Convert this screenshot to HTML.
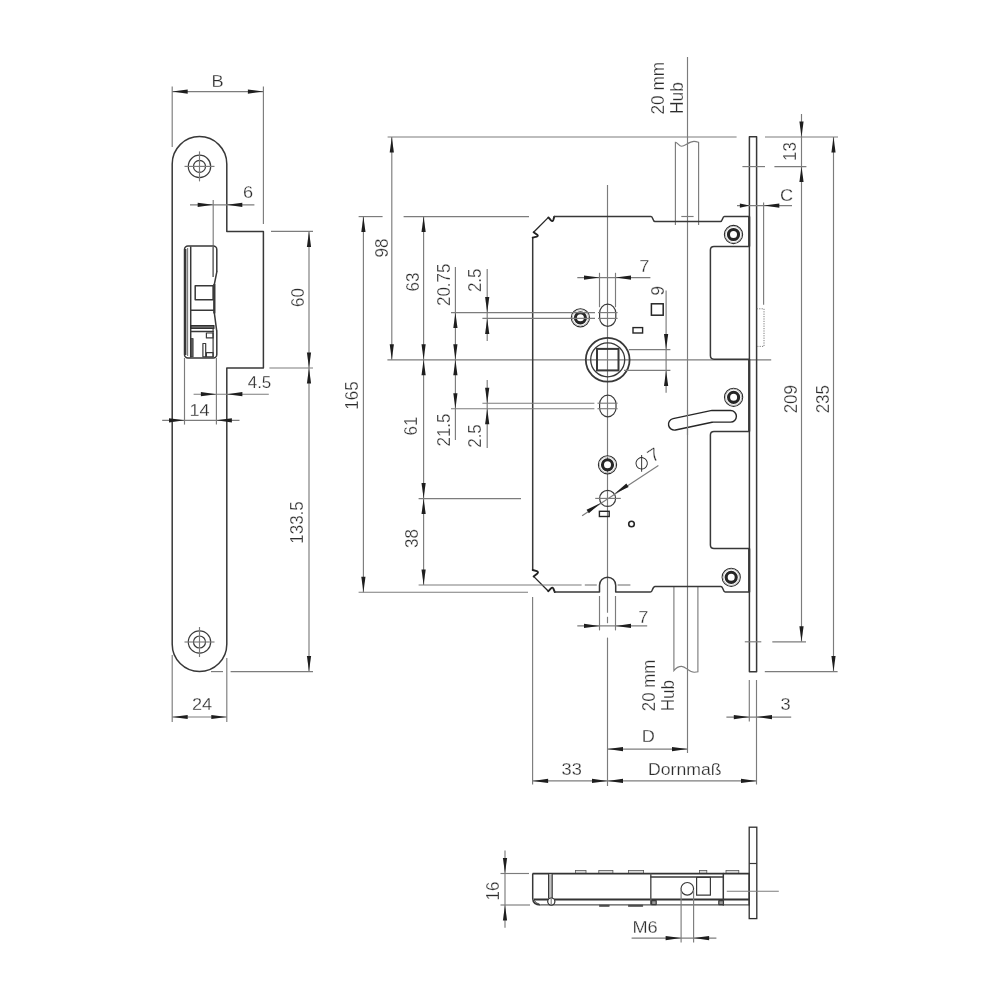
<!DOCTYPE html>
<html><head><meta charset="utf-8"><title>Lock drawing</title>
<style>
html,body{margin:0;padding:0;background:#fff;}
body{width:1000px;height:1000px;overflow:hidden;}
svg{display:block;filter:grayscale(1);}
text{font-family:"Liberation Sans",sans-serif;fill:#2c2c2c;stroke:#fff;stroke-width:0.25px;}
.t{stroke:#7c7c7c;stroke-width:1.15;fill:none;}
.t2{stroke:#7c7c7c;stroke-width:1.2;fill:none;}
.k{stroke:#383838;stroke-width:1.5;fill:none;stroke-linejoin:round;stroke-linecap:round;}
.k2{stroke:#383838;stroke-width:2.2;fill:none;stroke-linejoin:round;stroke-linecap:butt;}
.m{stroke:#3a3a3a;stroke-width:1.2;fill:none;stroke-linejoin:round;}
.a{fill:#1e1e1e;stroke:none;}
.s1{stroke:#2a2a2a;stroke-width:1;fill:none;}
.s2{stroke:#222;stroke-width:3.4;fill:#fff;}
.dot{stroke:#7c7c7c;stroke-width:1;fill:none;stroke-dasharray:1.2 1.2;}
</style></head><body>
<svg width="1000" height="1000" viewBox="0 0 1000 1000">
<rect x="0" y="0" width="1000" height="1000" fill="#fff"/>
<g id="left">
<line class="t" x1="172.2" y1="86.5" x2="172.2" y2="147"/>
<line class="t" x1="263.4" y1="86.5" x2="263.4" y2="224"/>
<line class="t" x1="172.2" y1="91.6" x2="263.4" y2="91.6"/>
<polygon class="a" points="172.20,91.60 187.70,89.50 187.70,93.70"/>
<polygon class="a" points="263.40,91.60 247.90,93.70 247.90,89.50"/>
<text transform="translate(217.5 87) scale(1.07 1.0)" text-anchor="middle" font-size="17">B</text>
<path class="k" d="M172.2,163.9 A27.3,27.3 0 0 1 226.8,163.9 L226.8,231.4 L263.4,231.4 L263.4,368 L226.8,368 L226.8,644.3 A27.3,27.3 0 0 1 172.2,644.3 Z"/>
<circle class="m" cx="199.5" cy="166.4" r="11.2"/>
<circle class="m" cx="199.5" cy="166.4" r="6"/>
<line class="t" x1="184.5" y1="166.4" x2="214.5" y2="166.4"/>
<line class="t" x1="199.5" y1="151.4" x2="199.5" y2="181.4"/>
<circle class="m" cx="199.5" cy="642" r="11.2"/>
<circle class="m" cx="199.5" cy="642" r="6"/>
<line class="t" x1="184.5" y1="642" x2="214.5" y2="642"/>
<line class="t" x1="199.5" y1="627" x2="199.5" y2="657"/>
<line class="t" x1="190" y1="204.8" x2="254.4" y2="204.8"/>
<polygon class="a" points="213.20,204.80 197.70,206.90 197.70,202.70"/>
<polygon class="a" points="226.80,204.80 242.30,202.70 242.30,206.90"/>
<line class="t" x1="213.2" y1="200" x2="213.2" y2="245.6"/>
<text transform="translate(248 198) scale(1.07 1.0)" text-anchor="middle" font-size="17">6</text>
<rect class="k" x="184.5" y="245.9" width="32.3" height="112.1" rx="3.5" ry="3.5" fill="#fff"/>
<path d="M216.9,271.4 L214.4,284 L214.4,313.4 L216.6,330.2 L219,330.2 L219,271.4 Z" fill="#fff" stroke="none"/>
<path class="k" d="M216.9,271.4 L214.4,284 L214.4,313.4 L216.6,330.2"/>
<line class="k2" x1="214.3" y1="284" x2="214.3" y2="313.4"/>
<line class="k2" x1="185.3" y1="249" x2="185.3" y2="355"/>
<line class="t" x1="187.6" y1="248" x2="187.6" y2="356"/>
<line class="k" x1="190.7" y1="247" x2="190.7" y2="357"/>
<line class="m" x1="213.1" y1="247" x2="213.1" y2="277"/>
<rect class="k" x="195.2" y="285.7" width="17.9" height="14" />
<line class="k" x1="190.7" y1="310.2" x2="214.1" y2="310.2"/>
<rect x="191" y="325.6" width="23" height="2.8" fill="#666" stroke="#222" stroke-width="1"/>
<line class="k" x1="191" y1="331.6" x2="213.1" y2="331.6"/>
<line class="m" x1="213.1" y1="328" x2="213.1" y2="357"/>
<rect class="m" x="206.4" y="333" width="6.7" height="4.9"/>
<rect class="m" x="206.4" y="352.6" width="6.7" height="4.2"/>
<rect class="m" x="202.9" y="343.5" width="2.8" height="13.3"/>
<rect x="191" y="338.6" width="2.1" height="18.2" fill="#666" stroke="#333" stroke-width="0.8"/>
<line class="t" x1="271" y1="231.4" x2="313" y2="231.4"/>
<line class="t" x1="269.4" y1="368" x2="313" y2="368"/>
<line class="t" x1="309" y1="231.4" x2="309" y2="671.6"/>
<polygon class="a" points="309.00,231.40 311.10,246.90 306.90,246.90"/>
<polygon class="a" points="309.00,368.00 306.90,352.50 311.10,352.50"/>
<polygon class="a" points="309.00,368.00 311.10,383.50 306.90,383.50"/>
<polygon class="a" points="309.00,671.60 306.90,656.10 311.10,656.10"/>
<text transform="translate(303.6 297.6) rotate(-90) scale(1.0 1.12)" text-anchor="middle" font-size="17">60</text>
<text transform="translate(303 522.5) rotate(-90) scale(1.0 1.12)" text-anchor="middle" font-size="17">133.5</text>
<line class="t" x1="193.6" y1="394.2" x2="268.8" y2="394.2"/>
<polygon class="a" points="216.40,394.20 200.90,396.30 200.90,392.10"/>
<polygon class="a" points="226.90,394.20 242.40,392.10 242.40,396.30"/>
<text transform="translate(259.5 388.2) scale(1.0 1.0)" text-anchor="middle" font-size="17">4.5</text>
<line class="t" x1="184.5" y1="358" x2="184.5" y2="424.6"/>
<line class="t" x1="216.4" y1="358" x2="216.4" y2="424.6"/>
<line class="t" x1="162.2" y1="420.3" x2="239.5" y2="420.3"/>
<polygon class="a" points="184.50,420.30 169.00,422.40 169.00,418.20"/>
<polygon class="a" points="216.40,420.30 231.90,418.20 231.90,422.40"/>
<text transform="translate(199.5 416.2) scale(1.07 1.0)" text-anchor="middle" font-size="17">14</text>
<line class="t" x1="211" y1="671.6" x2="223" y2="671.6"/>
<line class="t" x1="230.6" y1="671.6" x2="313" y2="671.6"/>
<line class="t" x1="172.2" y1="655" x2="172.2" y2="722"/>
<line class="t" x1="226.8" y1="658" x2="226.8" y2="722"/>
<line class="t" x1="172.2" y1="717" x2="226.8" y2="717"/>
<polygon class="a" points="172.20,717.00 187.70,714.90 187.70,719.10"/>
<polygon class="a" points="226.80,717.00 211.30,719.10 211.30,714.90"/>
<text transform="translate(202 710.3) scale(1.07 1.0)" text-anchor="middle" font-size="17">24</text>
</g>
<g id="main">
<line class="t" x1="387.6" y1="137" x2="736.6" y2="137"/>
<line class="t" x1="765" y1="137" x2="838" y2="137"/>
<line class="t" x1="687.5" y1="57" x2="687.5" y2="753"/>
<line class="t" x1="607.5" y1="185" x2="607.5" y2="612.8"/>
<line class="t" x1="607.5" y1="616.8" x2="607.5" y2="623.2"/>
<line class="t" x1="607.5" y1="637.6" x2="607.5" y2="786"/>
<line class="t" x1="387.4" y1="359.8" x2="771.2" y2="359.8"/>
<path class="t" d="M675.4,225 L675.4,142.2 C677.5,142.2 679,146.2 681.6,146.2 C685,146.2 689,141.4 694,141.4 C696,141.4 697.5,142 698.6,142.4 L698.6,225"/>
<path class="t" d="M673.9,586.4 L673.9,670.6 C676,668 679,666.4 681.6,666.4 C686,666.4 689,672.4 694.4,672.2 L697.9,671.8 L697.9,586.4"/>
<line class="t" x1="681.3" y1="216.5" x2="693.6" y2="216.5"/>
<path class="k" d="M532.7,237.6 L532.7,570"/>
<path d="M533.6,232.2 L548.4,217.4" fill="none" stroke="#262626" stroke-width="1.3"/>
<path d="M548.4,217.4 L551,220.4 Q552.6,222 553.3,220 L554.3,216.6 M532.7,237.6 L536.8,236.6 Q538.6,236 537.2,234.8 L533.6,232.2" fill="none" stroke="#222" stroke-width="1.9" stroke-linejoin="round" stroke-linecap="round"/>
<path class="k" d="M554.3,216.6 L651,216.6 C653.2,216.6 652.6,221.6 655,221.6 L720.4,221.6 C722.8,221.6 722.2,216.6 724.4,216.6 L749.3,216.6"/>
<path d="M533.6,576.4 L548.4,591.2" fill="none" stroke="#262626" stroke-width="1.3"/>
<path d="M548.4,591.2 L551,588.4 Q552.6,586.8 553.4,588.6 L554.8,592.1 M532.7,570 L536.8,571.2 Q538.8,572 537.4,573.4 L533.6,576.4" fill="none" stroke="#222" stroke-width="1.9" stroke-linejoin="round" stroke-linecap="round"/>
<path class="k" d="M554.8,592.1 L599.5,592.1 L599.5,585.3 A8.1,8.1 0 0 1 615.7,585.3 L615.7,592.1 L650.4,592.1 C652.8,592.1 652.2,586.4 655,586.4 L720.8,586.4 C723.4,586.4 722.8,592.1 725.2,592.1 L749.3,592.1"/>
<rect class="k" x="749.4" y="136.8" width="7.2" height="534.9" fill="#fff"/>
<path class="k2" d="M749.2,216.6 L749.2,246.4 M749.2,359.2 L749.2,431.5 M749.2,548.5 L749.2,592.2"/>
<path class="k" d="M749.3,246.4 L714,246.4 Q710.4,246.4 710.4,250 L710.4,355.6 Q710.4,359.2 714,359.2 L749.3,359.2"/>
<path class="k" d="M749.3,431.5 L714,431.5 Q710.4,431.5 710.4,435 L710.4,545 Q710.4,548.5 714,548.5 L749.3,548.5"/>
<circle cx="733.5" cy="234.5" r="9.1" fill="none" stroke="#2a2a2a" stroke-width="1.1"/>
<circle cx="733.5" cy="234.5" r="8.1" fill="none" stroke="#b4b4b4" stroke-width="0.9"/>
<circle cx="733.5" cy="234.5" r="5.05" fill="#fff" stroke="#262626" stroke-width="3.1"/>
<circle cx="580.4" cy="317.8" r="9.1" fill="none" stroke="#2a2a2a" stroke-width="1.1"/>
<circle cx="580.4" cy="317.8" r="8.1" fill="none" stroke="#b4b4b4" stroke-width="0.9"/>
<circle cx="580.4" cy="317.8" r="5.05" fill="#fff" stroke="#262626" stroke-width="3.1"/>
<circle cx="733.6" cy="397.3" r="9.1" fill="none" stroke="#2a2a2a" stroke-width="1.1"/>
<circle cx="733.6" cy="397.3" r="8.1" fill="none" stroke="#b4b4b4" stroke-width="0.9"/>
<circle cx="733.6" cy="397.3" r="5.05" fill="#fff" stroke="#262626" stroke-width="3.1"/>
<circle cx="607.5" cy="464.8" r="9.1" fill="none" stroke="#2a2a2a" stroke-width="1.1"/>
<circle cx="607.5" cy="464.8" r="8.1" fill="none" stroke="#b4b4b4" stroke-width="0.9"/>
<circle cx="607.5" cy="464.8" r="5.05" fill="#fff" stroke="#262626" stroke-width="3.1"/>
<circle cx="731.2" cy="577.3" r="9.1" fill="none" stroke="#2a2a2a" stroke-width="1.1"/>
<circle cx="731.2" cy="577.3" r="8.1" fill="none" stroke="#b4b4b4" stroke-width="0.9"/>
<circle cx="731.2" cy="577.3" r="5.05" fill="#fff" stroke="#262626" stroke-width="3.1"/>
<circle cx="607.7" cy="359.8" r="21.9" fill="none" stroke="#383838" stroke-width="1.8"/>
<circle cx="607.7" cy="359.8" r="17" fill="none" stroke="#383838" stroke-width="1.3"/>
<rect x="597.0" y="348.90000000000003" width="21.5" height="21.5" fill="none" stroke="#383838" stroke-width="2"/>
<rect class="m" x="599.6" y="304.2" width="16.2" height="22.2" rx="8.1" ry="9"/>
<rect class="m" x="599.6" y="395.2" width="16.4" height="21.6" rx="8.2" ry="9"/>
<rect x="651.4" y="303.8" width="11.8" height="11.4" fill="none" stroke="#262626" stroke-width="1.5"/>
<rect x="633" y="327.6" width="9.6" height="5.4" fill="none" stroke="#262626" stroke-width="1.4"/>
<rect x="599.4" y="511.3" width="9.8" height="5.2" fill="none" stroke="#262626" stroke-width="1.4"/>
<circle cx="631.5" cy="524" r="2.8" fill="none" stroke="#262626" stroke-width="1.6"/>
<circle class="m" cx="607.6" cy="498.4" r="8"/>
<line class="t" x1="595.2" y1="498.4" x2="620.8" y2="498.4"/>
<path d="M674.3,424.3 L712,416.3 L730.6,416.3" fill="none" stroke="#262626" stroke-width="13" stroke-linecap="round" stroke-linejoin="round"/>
<path d="M674.3,424.3 L712,416.3 L730.6,416.3" fill="none" stroke="#fff" stroke-width="10.2" stroke-linecap="round" stroke-linejoin="round"/>
<line class="t" x1="687.5" y1="410" x2="687.5" y2="435"/>
<line class="t" x1="763.6" y1="202.4" x2="763.6" y2="304.8"/>
<path class="dot" d="M756.8,308.8 L764,308.8 L764,346.4 L756.8,346.4"/>
</g>
<g id="dims">
<line class="t" x1="358.6" y1="216.6" x2="382.6" y2="216.6"/>
<line class="t" x1="358.6" y1="592.2" x2="528" y2="592.2"/>
<line class="t" x1="363.4" y1="216.6" x2="363.4" y2="592.2"/>
<polygon class="a" points="363.40,216.60 365.50,232.10 361.30,232.10"/>
<polygon class="a" points="363.40,592.20 361.30,576.70 365.50,576.70"/>
<text transform="translate(357.5 395.5) rotate(-90) scale(1.0 1.12)" text-anchor="middle" font-size="17">165</text>
<line class="t" x1="391.8" y1="137" x2="391.8" y2="359.8"/>
<polygon class="a" points="391.80,137.00 393.90,152.50 389.70,152.50"/>
<polygon class="a" points="391.80,359.80 389.70,344.30 393.90,344.30"/>
<text transform="translate(388.4 248) rotate(-90) scale(1.0 1.12)" text-anchor="middle" font-size="17">98</text>
<line class="t" x1="403.6" y1="216.6" x2="529" y2="216.6"/>
<line class="t" x1="423.6" y1="216.6" x2="423.6" y2="585"/>
<polygon class="a" points="423.60,216.60 425.70,232.10 421.50,232.10"/>
<polygon class="a" points="423.60,359.80 421.50,344.30 425.70,344.30"/>
<polygon class="a" points="423.60,359.80 425.70,375.30 421.50,375.30"/>
<polygon class="a" points="423.60,498.60 421.50,483.10 425.70,483.10"/>
<polygon class="a" points="423.60,498.60 425.70,514.10 421.50,514.10"/>
<polygon class="a" points="423.60,585.00 421.50,569.50 425.70,569.50"/>
<line class="t" x1="418.6" y1="498.6" x2="521" y2="498.6"/>
<line class="t" x1="418.6" y1="585" x2="581.6" y2="585"/>
<line class="t" x1="584.8" y1="585" x2="596.8" y2="585"/>
<line class="t" x1="617.6" y1="585" x2="630.4" y2="585"/>
<text transform="translate(418.5 282) rotate(-90) scale(1.0 1.12)" text-anchor="middle" font-size="17">63</text>
<text transform="translate(416.8 426) rotate(-90) scale(1.0 1.12)" text-anchor="middle" font-size="17">61</text>
<text transform="translate(418 538.5) rotate(-90) scale(1.0 1.12)" text-anchor="middle" font-size="17">38</text>
<line class="t" x1="455.4" y1="267" x2="455.4" y2="440"/>
<line class="t" x1="451" y1="312.6" x2="595" y2="312.6"/>
<line class="t" x1="598" y1="312.6" x2="617.6" y2="312.6"/>
<line class="t" x1="451" y1="408.7" x2="594.4" y2="408.7"/>
<line class="t" x1="597.5" y1="408.7" x2="617.6" y2="408.7"/>
<polygon class="a" points="455.40,312.60 457.50,328.10 453.30,328.10"/>
<polygon class="a" points="455.40,359.80 453.30,344.30 457.50,344.30"/>
<polygon class="a" points="455.40,359.80 457.50,375.30 453.30,375.30"/>
<polygon class="a" points="455.40,408.70 453.30,393.20 457.50,393.20"/>
<text transform="translate(450 284.8) rotate(-90) scale(1.0 1.12)" text-anchor="middle" font-size="17">20.75</text>
<text transform="translate(450 430) rotate(-90) scale(1.0 1.12)" text-anchor="middle" font-size="17">21.5</text>
<line class="t" x1="487.2" y1="269" x2="487.2" y2="341"/>
<line class="t" x1="487.2" y1="380" x2="487.2" y2="448"/>
<line class="t" x1="482.4" y1="318.4" x2="595" y2="318.4"/>
<line class="t" x1="598" y1="318.4" x2="617.6" y2="318.4"/>
<line class="t" x1="482.4" y1="403.2" x2="594.4" y2="403.2"/>
<line class="t" x1="597.5" y1="403.2" x2="617.6" y2="403.2"/>
<polygon class="a" points="487.20,312.60 485.10,297.10 489.30,297.10"/>
<polygon class="a" points="487.20,318.40 489.30,333.90 485.10,333.90"/>
<polygon class="a" points="487.20,403.20 485.10,387.70 489.30,387.70"/>
<polygon class="a" points="487.20,408.70 489.30,424.20 485.10,424.20"/>
<text transform="translate(481 280.3) rotate(-90) scale(1.0 1.12)" text-anchor="middle" font-size="17">2.5</text>
<text transform="translate(481 436) rotate(-90) scale(1.0 1.12)" text-anchor="middle" font-size="17">2.5</text>
<line class="t" x1="577.3" y1="277.6" x2="650.4" y2="277.6"/>
<line class="t" x1="599.5" y1="272.8" x2="599.5" y2="307.2"/>
<line class="t" x1="615.5" y1="272.8" x2="615.5" y2="307.2"/>
<polygon class="a" points="599.50,277.60 584.00,279.70 584.00,275.50"/>
<polygon class="a" points="615.50,277.60 631.00,275.50 631.00,279.70"/>
<text transform="translate(644.2 272.3) scale(1.07 1.0)" text-anchor="middle" font-size="17">7</text>
<line class="t" x1="577.3" y1="625.9" x2="647.2" y2="625.9"/>
<line class="t" x1="599.5" y1="596" x2="599.5" y2="630.4"/>
<line class="t" x1="615.5" y1="596" x2="615.5" y2="630.4"/>
<polygon class="a" points="599.50,625.90 584.00,628.00 584.00,623.80"/>
<polygon class="a" points="615.50,625.90 631.00,623.80 631.00,628.00"/>
<text transform="translate(643.2 623.2) scale(1.07 1.0)" text-anchor="middle" font-size="17">7</text>
<line class="t" x1="666.1" y1="290.4" x2="666.1" y2="392.8"/>
<line class="t" x1="628.8" y1="349.6" x2="670.4" y2="349.6"/>
<line class="t" x1="624" y1="370.4" x2="670.4" y2="370.4"/>
<polygon class="a" points="666.10,349.60 664.00,334.10 668.20,334.10"/>
<polygon class="a" points="666.10,370.40 668.20,385.90 664.00,385.90"/>
<text transform="translate(664 290.8) rotate(-90) scale(1.0 1.12)" text-anchor="middle" font-size="17">9</text>
<line class="t" x1="582.1" y1="515.7" x2="658.4" y2="465.6"/>
<polygon class="a" points="614.54,493.84 626.34,483.58 628.65,487.09"/>
<polygon class="a" points="600.66,502.96 588.86,513.22 586.55,509.71"/>
<g transform="translate(646.4 459.6) rotate(-33.29)">
<text transform="translate(8.6 6.2) scale(1.07 1.0)" text-anchor="middle" font-size="18">7</text>
<circle cx="-6" cy="0.5" r="5.7" fill="none" stroke="#2c2c2c" stroke-width="0.95"/><line x1="-1.4" y1="-6.5" x2="-10.6" y2="7.5" stroke="#2c2c2c" stroke-width="0.95"/>
</g>
<line class="t" x1="742.4" y1="166.6" x2="765" y2="166.6"/>
<line class="t" x1="774.4" y1="166.6" x2="806.4" y2="166.6"/>
<line class="t" x1="801.5" y1="114" x2="801.5" y2="641.8"/>
<polygon class="a" points="801.50,137.00 799.40,121.50 803.60,121.50"/>
<polygon class="a" points="801.50,166.60 803.60,182.10 799.40,182.10"/>
<polygon class="a" points="801.50,641.80 799.40,626.30 803.60,626.30"/>
<text transform="translate(796 151.5) rotate(-90) scale(1.0 1.12)" text-anchor="middle" font-size="17">13</text>
<line class="t" x1="833.5" y1="137" x2="833.5" y2="671.5"/>
<polygon class="a" points="833.50,137.00 835.60,152.50 831.40,152.50"/>
<polygon class="a" points="833.50,671.50 831.40,656.00 835.60,656.00"/>
<line class="t" x1="744.8" y1="641.8" x2="761.3" y2="641.8"/>
<line class="t" x1="772.3" y1="641.8" x2="806" y2="641.8"/>
<line class="t" x1="764.8" y1="671.6" x2="837.6" y2="671.6"/>
<text transform="translate(797 399.2) rotate(-90) scale(1.0 1.12)" text-anchor="middle" font-size="17">209</text>
<text transform="translate(829 399.2) rotate(-90) scale(1.0 1.12)" text-anchor="middle" font-size="17">235</text>
<line class="t" x1="737" y1="205.6" x2="792" y2="205.6"/>
<polygon class="a" points="749.40,205.60 739.90,207.70 739.90,203.50"/>
<polygon class="a" points="763.80,205.60 779.30,203.50 779.30,207.70"/>
<text transform="translate(786.6 201.4) scale(1.07 1.0)" text-anchor="middle" font-size="17">C</text>
<line class="t" x1="726.4" y1="717.1" x2="791.2" y2="717.1"/>
<line class="t" x1="749.3" y1="680" x2="749.3" y2="721.6"/>
<line class="t" x1="756.5" y1="680" x2="756.5" y2="784.5"/>
<polygon class="a" points="749.30,717.10 733.80,719.20 733.80,715.00"/>
<polygon class="a" points="756.50,717.10 772.00,715.00 772.00,719.20"/>
<text transform="translate(785.6 710) scale(1.07 1.0)" text-anchor="middle" font-size="17">3</text>
<line class="t" x1="607.5" y1="749.1" x2="687.5" y2="749.1"/>
<polygon class="a" points="607.50,749.10 623.00,747.00 623.00,751.20"/>
<polygon class="a" points="687.50,749.10 672.00,751.20 672.00,747.00"/>
<text transform="translate(648.3 742.4) scale(1.07 1.0)" text-anchor="middle" font-size="17">D</text>
<line class="t" x1="532.6" y1="597" x2="532.6" y2="784.5"/>
<line class="t" x1="532.6" y1="780.9" x2="756.5" y2="780.9"/>
<polygon class="a" points="532.60,780.90 548.10,778.80 548.10,783.00"/>
<polygon class="a" points="607.50,780.90 592.00,783.00 592.00,778.80"/>
<polygon class="a" points="607.50,780.90 623.00,778.80 623.00,783.00"/>
<polygon class="a" points="756.50,780.90 741.00,783.00 741.00,778.80"/>
<text transform="translate(571.7 775.4) scale(1.07 1.0)" text-anchor="middle" font-size="17">33</text>
<text transform="translate(684.8 774.6) scale(1.0 1.0)" text-anchor="middle" font-size="17" textLength="73.5" lengthAdjust="spacingAndGlyphs">Dornmaß</text>
<text transform="translate(664 88.2) rotate(-90) scale(1.0 1.12)" text-anchor="middle" font-size="17" textLength="52.5" lengthAdjust="spacingAndGlyphs">20 mm</text>
<text transform="translate(682.9 98) rotate(-90) scale(1.0 1.12)" text-anchor="middle" font-size="17" textLength="32" lengthAdjust="spacingAndGlyphs">Hub</text>
<text transform="translate(655.2 685.5) rotate(-90) scale(1.0 1.12)" text-anchor="middle" font-size="17" textLength="51.5" lengthAdjust="spacingAndGlyphs">20 mm</text>
<text transform="translate(674.4 695.6) rotate(-90) scale(1.0 1.12)" text-anchor="middle" font-size="17" textLength="31.5" lengthAdjust="spacingAndGlyphs">Hub</text>
</g>
<g id="bottom">
<line class="t" x1="500.5" y1="873.5" x2="529" y2="873.5"/>
<line class="t" x1="500.5" y1="905" x2="530" y2="905"/>
<line class="t" x1="505" y1="850.5" x2="505" y2="927.8"/>
<polygon class="a" points="505.00,873.50 502.90,858.00 507.10,858.00"/>
<polygon class="a" points="505.00,905.00 507.10,920.50 502.90,920.50"/>
<text transform="translate(499 891) rotate(-90) scale(1.0 1.12)" text-anchor="middle" font-size="17">16</text>
<rect x="749.2" y="827.2" width="7.6" height="91.4" fill="#fff" stroke="#2e2e2e" stroke-width="1.3"/>
<line class="m" x1="749.2" y1="863.5" x2="756.8" y2="863.5"/>
<rect x="575.6" y="870.6" width="10.4" height="3" fill="#ddd" stroke="#555" stroke-width="0.8"/>
<rect x="598.8" y="870.6" width="14.1" height="3" fill="#ddd" stroke="#555" stroke-width="0.8"/>
<rect x="628.4" y="870.6" width="15.2" height="3" fill="#ddd" stroke="#555" stroke-width="0.8"/>
<rect x="699.6" y="870.6" width="7.2" height="3" fill="#ddd" stroke="#555" stroke-width="0.8"/>
<rect x="726" y="870.6" width="12.8" height="3" fill="#ddd" stroke="#555" stroke-width="0.8"/>
<rect x="599.6" y="905" width="9.6" height="1.4" fill="#444" stroke="#444" stroke-width="0.6"/>
<rect x="628.4" y="905" width="14.4" height="1.4" fill="#444" stroke="#444" stroke-width="0.6"/>
<path d="M749.2,873.6 L532.6,873.6" fill="none" stroke="#333" stroke-width="1.9"/>
<path d="M532.7,873.6 L532.7,898.4 Q533,904.9 540.4,904.9" fill="none" stroke="#383838" stroke-width="1.5"/>
<path d="M540.4,904.9 L749.2,904.9" fill="none" stroke="#555" stroke-width="1.4"/>
<path d="M534,899.6 L749.2,899.6" fill="none" stroke="#333" stroke-width="2"/>
<line class="k" x1="749.2" y1="873.6" x2="749.2" y2="904.9"/>
<path d="M534.2,900.2 Q535.6,903.4 539.6,904.2" fill="none" stroke="#444" stroke-width="1"/>
<rect x="548.6" y="874" width="3.6" height="24.6" fill="#c4c4c4" stroke="none"/>
<line class="m" x1="548.6" y1="874" x2="548.6" y2="898.6"/>
<line class="m" x1="552.2" y1="874" x2="552.2" y2="898.6"/>
<circle cx="551.3" cy="901.6" r="3.6" fill="#fff" stroke="#2e2e2e" stroke-width="1.2"/>
<line class="t" x1="551.2" y1="899" x2="551.2" y2="905"/>
<line x1="650.8" y1="873.6" x2="650.8" y2="904.9" stroke="#5a5a5a" stroke-width="1.5"/>
<line class="k" x1="723.3" y1="873.6" x2="723.3" y2="904.9"/>
<line class="k" x1="650.8" y1="877" x2="723.3" y2="877"/>
<rect class="m" x="651.6" y="900.6" width="4.6" height="4" style="fill:#999"/>
<rect class="m" x="718.8" y="900.6" width="4.6" height="4" style="fill:#999"/>
<circle class="m" cx="687.3" cy="888.8" r="6.3"/>
<rect class="m" x="696.6" y="877.4" width="13.8" height="17.8"/>
<line class="t" x1="726.8" y1="891.2" x2="778.8" y2="891.2"/>
<line class="t" x1="631.6" y1="938.1" x2="716.4" y2="938.1"/>
<line class="t" x1="681.1" y1="890" x2="681.1" y2="942.4"/>
<line class="t" x1="693.6" y1="890" x2="693.6" y2="942.4"/>
<polygon class="a" points="681.10,938.10 665.60,940.20 665.60,936.00"/>
<polygon class="a" points="693.60,938.10 709.10,936.00 709.10,940.20"/>
<text transform="translate(645 933.2) scale(1.07 1.0)" text-anchor="middle" font-size="17">M6</text>
</g>
</svg>
</body></html>
